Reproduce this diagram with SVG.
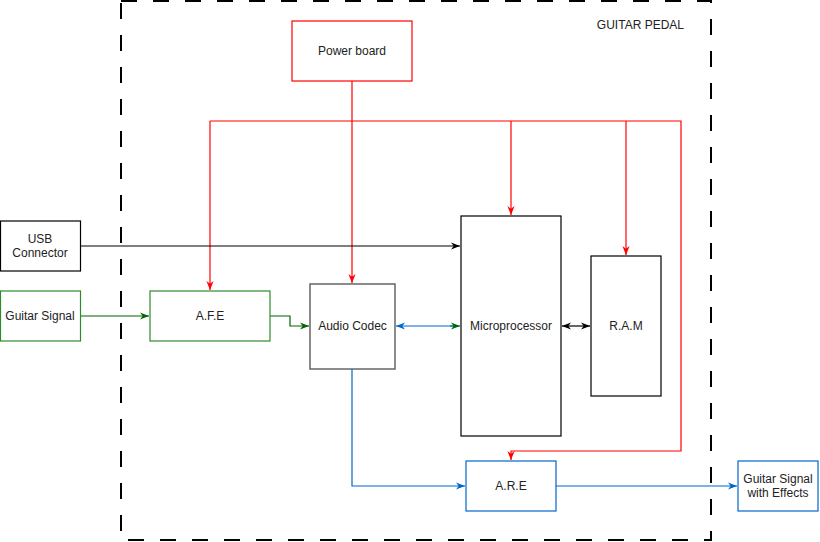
<svg xmlns="http://www.w3.org/2000/svg" width="820" height="542" viewBox="0 0 820 542">
<defs>
<style>
text{font-family:"Liberation Sans",Arial,sans-serif;font-size:12px;fill:#222;text-anchor:middle;dominant-baseline:central}
.box{fill:#fff}
.line{fill:none;stroke-width:1.2}
</style>
<marker id="aR" viewBox="0 0 10 10" refX="10" refY="5" markerWidth="9" markerHeight="9" markerUnits="userSpaceOnUse" orient="auto-start-reverse"><path d="M0,1 L10,5 L0,9 L3,5 Z" fill="#FF0000"/></marker>
<marker id="aK" viewBox="0 0 10 10" refX="10" refY="5" markerWidth="9" markerHeight="9" markerUnits="userSpaceOnUse" orient="auto-start-reverse"><path d="M0,1 L10,5 L0,9 L3,5 Z" fill="#000"/></marker>
<marker id="aG" viewBox="0 0 10 10" refX="10" refY="5" markerWidth="9" markerHeight="9" markerUnits="userSpaceOnUse" orient="auto-start-reverse"><path d="M0,1 L10,5 L0,9 L3,5 Z" fill="#006600"/></marker>
<marker id="aB" viewBox="0 0 10 10" refX="10" refY="5" markerWidth="9" markerHeight="9" markerUnits="userSpaceOnUse" orient="auto-start-reverse"><path d="M0,1 L10,5 L0,9 L3,5 Z" fill="#0066CC"/></marker>
</defs>
<rect width="820" height="542" fill="#fff"/>
<g id="guitar-pedal">
<rect x="121" y="1" width="590" height="539" fill="none" stroke="#000" stroke-width="2" stroke-dasharray="16 16"/>
<text x="684" y="25" style="text-anchor:end">GUITAR PEDAL</text>
</g>
<g id="connectors">
<path class="line" stroke="#FF0000" d="M352,81 V283" marker-end="url(#aR)"/>
<path class="line" stroke="#FF0000" d="M210,121 H681 V451 H511 V460" marker-end="url(#aR)"/>
<path class="line" stroke="#FF0000" d="M210,121 V290" marker-end="url(#aR)"/>
<path class="line" stroke="#FF0000" d="M511,121 V215" marker-end="url(#aR)"/>
<path class="line" stroke="#FF0000" d="M626,121 V255" marker-end="url(#aR)"/>
<path class="line" stroke="#000" d="M80,246 H460" marker-end="url(#aK)"/>
<path class="line" stroke="#006600" d="M80,316 H149" marker-end="url(#aG)"/>
<path class="line" stroke="#006600" d="M270,316 H290 V326 H309" marker-end="url(#aG)"/>
<path class="line" stroke="#0066CC" d="M396,326 H455"  marker-start="url(#aB)"/>
<path class="line" stroke="#0066CC" d="M450,326 H460" marker-end="url(#aG)"/>
<path class="line" stroke="#000" d="M562,326 H590" marker-start="url(#aK)" marker-end="url(#aK)"/>
<path class="line" stroke="#0066CC" d="M352,369 V486 H465" marker-end="url(#aB)"/>
<path class="line" stroke="#0066CC" d="M556,486 H737" marker-end="url(#aB)"/>
</g>
<g id="power-board">
<rect class="box" x="292" y="21" width="120" height="60" stroke="#FF0000" stroke-width="1.2"/>
<text x="352" y="51">Power board</text>
</g>
<g id="usb-connector">
<rect class="box" x="0.5" y="221" width="80" height="50" stroke="#000" stroke-width="1.2"/>
<text x="40" y="239">USB</text>
<text x="40" y="253">Connector</text>
</g>
<g id="guitar-signal">
<rect class="box" x="0.5" y="291" width="80" height="50" stroke="#2D8A2D" stroke-width="1.2"/>
<text x="40" y="316">Guitar Signal</text>
</g>
<g id="afe">
<rect class="box" x="150" y="291" width="120" height="50" stroke="#2D8A2D" stroke-width="1.2"/>
<text x="210" y="316">A.F.E</text>
</g>
<g id="audio-codec">
<rect class="box" x="310" y="284" width="85" height="85" stroke="#666" stroke-width="1.5"/>
<text x="352.5" y="326">Audio Codec</text>
</g>
<g id="microprocessor">
<rect class="box" x="461" y="216" width="100" height="220" stroke="#000" stroke-width="1.2"/>
<text x="511" y="326">Microprocessor</text>
</g>
<g id="ram">
<rect class="box" x="591" y="256" width="70" height="140" stroke="#000" stroke-width="1.2"/>
<text x="626" y="326">R.A.M</text>
</g>
<g id="are">
<rect class="box" x="466" y="461" width="90" height="50" stroke="#0066CC" stroke-width="1.2"/>
<text x="511" y="486">A.R.E</text>
</g>
<g id="guitar-signal-effects">
<rect class="box" x="738" y="461" width="80" height="50" stroke="#0066CC" stroke-width="1.2"/>
<text x="778" y="479">Guitar Signal</text>
<text x="778" y="493">with Effects</text>
</g>
</svg>
